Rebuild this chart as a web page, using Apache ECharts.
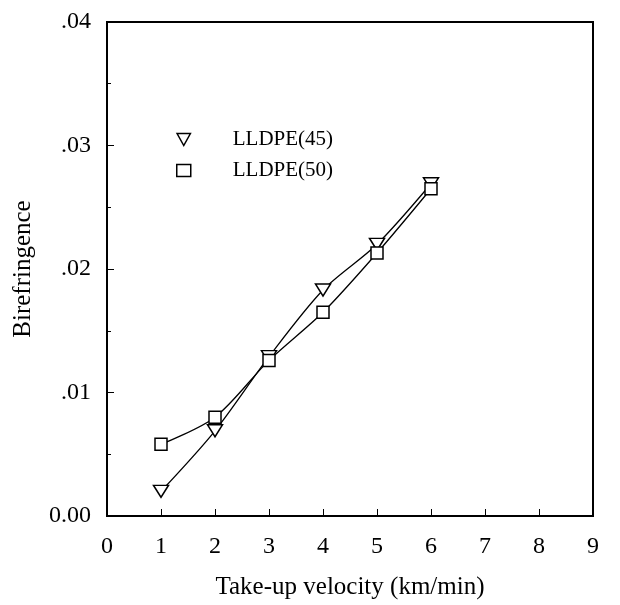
<!DOCTYPE html>
<html><head><meta charset="utf-8">
<script src="https://cdn.jsdelivr.net/npm/echarts@6/dist/echarts.min.js"></script>
<style>html,body{margin:0;padding:0;background:#fff}#c{width:620px;height:605px}</style>
</head><body><div id="c"></div>
<script>
var velocity = [1, 2, 3, 4, 5, 6];
var lldpe45 = [0.0020, 0.0069, 0.0129, 0.0183, 0.0220, 0.0269];
var lldpe50 = [0.0058, 0.0080, 0.0126, 0.0165, 0.0213, 0.0265];
var seriesNames = ['LLDPE(45)', 'LLDPE(50)'];
var xTicks = [0, 1, 2, 3, 4, 5, 6, 7, 8, 9];
var yTicks = ['0.00', '.01', '.02', '.03', '.04'];

var tri = 'path://M0,0 L10,0 L5,9 Z';
var font = 'Liberation Serif';
function pairs(ys){ return velocity.map(function(x,i){ return [x, ys[i]]; }); }

var chart = echarts.init(document.getElementById('c'));
chart.setOption({
  animation: false,
  backgroundColor: '#fff',
  grid: { left: 107, right: 27, top: 22, bottom: 88, show: true, borderColor: '#000', borderWidth: 2, backgroundColor: 'transparent' },
  legend: {
    orient: 'vertical', left: 171, top: 124, itemGap: 10,
    itemWidth: 14, itemHeight: 12,
    textStyle: { fontFamily: font, fontSize: 21, color: '#000', padding: [0, 0, 0, 37] },
    data: [
      { name: seriesNames[0], icon: tri, itemStyle: { color: '#fff', borderColor: '#000', borderWidth: 1.5 } },
      { name: seriesNames[1], icon: 'rect', itemStyle: { color: '#fff', borderColor: '#000', borderWidth: 1.5 } }
    ]
  },
  xAxis: {
    type: 'value', min: 0, max: 9, interval: 1,
    name: 'Take-up velocity (km/min)', nameLocation: 'middle', nameGap: 59,
    nameTextStyle: { fontFamily: font, fontSize: 25, color: '#000' },
    axisLine: { lineStyle: { color: '#000', width: 2 } },
    axisTick: { inside: true, length: 7, lineStyle: { color: '#000', width: 1 } },
    axisLabel: { fontFamily: font, fontSize: 24, color: '#000', margin: 19,
      formatter: function(v){ return String(xTicks[Math.round(v)]); } },
    splitLine: { show: false }
  },
  yAxis: {
    type: 'value', min: 0, max: 0.04, interval: 0.01,
    name: 'Birefringence', nameLocation: 'middle', nameGap: 71,
    nameTextStyle: { fontFamily: font, fontSize: 25, color: '#000' },
    axisLine: { lineStyle: { color: '#000', width: 2 } },
    axisTick: { inside: true, length: 7, lineStyle: { color: '#000', width: 1 } },
    minorTick: { show: true, splitNumber: 2, length: 4, lineStyle: { color: '#000', width: 1 } },
    axisLabel: { fontFamily: font, fontSize: 24, color: '#000', margin: 16,
      formatter: function(v){ return yTicks[Math.round(v * 100)]; } },
    splitLine: { show: false }
  },
  series: [
    { name: seriesNames[0], type: 'line', data: pairs(lldpe45), smooth: 0.3,
      symbol: tri, symbolSize: [15, 12],
      lineStyle: { color: '#000', width: 1.3 },
      itemStyle: { color: '#fff', borderColor: '#000', borderWidth: 1.5 } },
    { name: seriesNames[1], type: 'line', data: pairs(lldpe50), smooth: 0.3,
      symbol: 'rect', symbolSize: 12,
      lineStyle: { color: '#000', width: 1.3 },
      itemStyle: { color: '#fff', borderColor: '#000', borderWidth: 1.5 } }
  ]
});
</script></body></html>
